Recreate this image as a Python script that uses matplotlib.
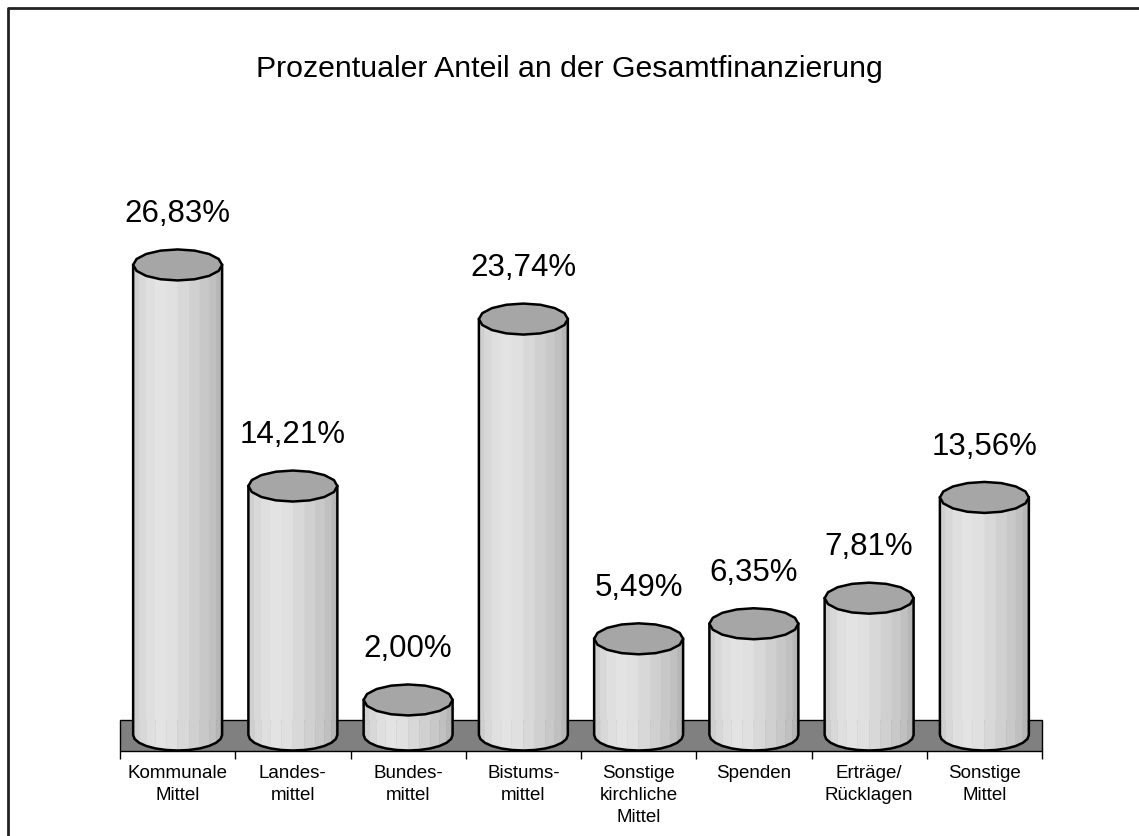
import numpy as np
import matplotlib
matplotlib.use('Agg')
import matplotlib.pyplot as plt
from matplotlib.patches import Polygon, Rectangle
from matplotlib.lines import Line2D

plt.rcParams['font.family'] = ['Liberation Sans', 'DejaVu Sans']

categories = ['Kommunale\nMittel', 'Landes-\nmittel', 'Bundes-\nmittel', 'Bistums-\nmittel',
              'Sonstige\nkirchliche\nMittel', 'Spenden', 'Erträge/\nRücklagen', 'Sonstige\nMittel']
values = [26.83, 14.21, 2.00, 23.74, 5.49, 6.35, 7.81, 13.56]
labels = ['26,83%', '14,21%', '2,00%', '23,74%', '5,49%', '6,35%', '7,81%', '13,56%']
title = 'Prozentualer Anteil an der Gesamtfinanzierung'

W, H = 1139, 836
fig = plt.figure(figsize=(W / 100, H / 100), dpi=100)

# axes placed in pixel terms: x from 120 to 1042, y from floor bottom (751) up to 100
PX_PER_PCT = 17.52
y_lo = -(751 - 735) / PX_PER_PCT
y_hi = (735 - 100) / PX_PER_PCT
ax = fig.add_axes([120 / W, (H - 751) / H, 922 / W, (751 - 100) / H])
ax.set_xlim(-0.5, len(values) - 0.5)
ax.set_ylim(y_lo, y_hi)

# floor
floor_top = (735 - 720) / PX_PER_PCT
ax.add_patch(Rectangle((-0.5, y_lo), len(values), floor_top - y_lo, facecolor='#808080',
                       edgecolor='black', lw=1.0, zorder=1, clip_on=False))

R = 0.386           # cylinder half width (category units)
B = 15.5 / PX_PER_PCT  # ellipse half height (percent units)
facet_cols = ['#c6c6c6', '#cfcfcf', '#d8d8d8', '#dfdfdf', '#e3e3e3', '#e0e0e0', '#d8d8d8',
              '#d0d0d0', '#c8c8c8', '#c0c0c0', '#b6b6b6', '#aaaaaa']
nf = len(facet_cols)
t_front = np.linspace(np.pi, 2 * np.pi, nf + 1)

for i, v in enumerate(values):
    xs = i + R * np.cos(t_front)
    ys = B * np.sin(t_front)
    for k in range(nf):
        quad = [(xs[k], ys[k]), (xs[k + 1], ys[k + 1]), (xs[k + 1], v), (xs[k], v)]
        ax.add_patch(Polygon(quad, closed=True, facecolor=facet_cols[k], edgecolor=facet_cols[k],
                             lw=0.3, zorder=3))
    # outline of the body
    outline = np.column_stack([np.r_[i - R, xs, i + R], np.r_[v, ys, v]])
    ax.plot(outline[:, 0], outline[:, 1], color='black', lw=1.8, zorder=4,
            solid_joinstyle='round')
    # top ellipse
    t_top = np.linspace(0, 2 * np.pi, 17)[:-1]
    top = np.column_stack([i + R * np.cos(t_top), v + B * np.sin(t_top)])
    ax.add_patch(Polygon(top, closed=True, facecolor='#a6a6a6', edgecolor='black', lw=1.8,
                         zorder=5, joinstyle='round'))
    ax.annotate(labels[i], (i, v), xytext=(0, 36.5), textcoords='offset points',
                ha='center', va='center', fontsize=22.5, zorder=6)

for s in ['top', 'right', 'left', 'bottom']:
    ax.spines[s].set_visible(False)
ax.set_yticks([])
ax.set_xticks(range(len(values)))
ax.set_xticklabels(categories, fontsize=13.5, linespacing=1.4)
ax.set_xticks(np.arange(-0.5, len(values)), minor=True)
ax.tick_params(axis='x', which='major', length=0, pad=10)
ax.tick_params(axis='x', which='minor', length=5.8, width=1.0, color='black', direction='out')

fig.text(569.5 / W, 1 - 69 / H, title, ha='center', va='center', fontsize=21.8)

# outer frame (only left and top edges visible)
fig.add_artist(Line2D([8 / W, 8 / W, 1.0], [0.0, 1 - 7.5 / H, 1 - 7.5 / H],
                      transform=fig.transFigure, color='#222222', lw=2.0))

fig.savefig('out.png', dpi=100)
